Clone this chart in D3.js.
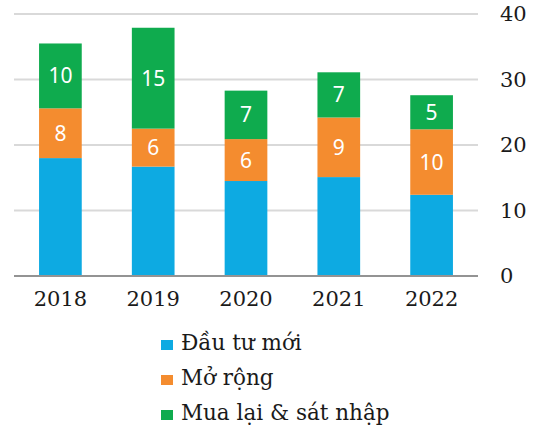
<!DOCTYPE html>
<html>
<head>
<meta charset="utf-8">
<script src="https://cdn.jsdelivr.net/npm/d3@7"></script>
<style>
  body { margin: 0; background: #fff; }
  svg { display: block; }
</style>
</head>
<body>
<script>
var width = 534;
var height = 429;
var margin = { top: 14, right: 56, bottom: 153, left: 14 };

// data
var years = ["2018", "2019", "2020", "2021", "2022"];
var dauTuMoi = [18.0, 16.7, 14.5, 15.1, 12.4];
var moRong = [7.6, 5.8, 6.4, 9.1, 10.0];
var muaLai = [9.9, 15.4, 7.4, 6.9, 5.2];
var seriesNames = ["Đầu tư mới", "Mở rộng", "Mua lại & sát nhập"];
var colors = ["#0daae2", "#f48c2f", "#0fab4e"];
var yTicks = [0, 10, 20, 30, 40];

var rows = years.map(function (y, i) {
  return { year: y, a: dauTuMoi[i], b: moRong[i], c: muaLai[i] };
});
var keys = ["a", "b", "c"];

var svg = d3
  .select("body")
  .append("svg")
  .attr("width", width)
  .attr("height", height);

var xScale = d3
  .scaleBand()
  .domain(years)
  .range([margin.left, width - margin.right])
  .paddingInner(0.54)
  .paddingOuter(0.27);

var yScale = d3
  .scaleLinear()
  .domain([0, 40])
  .range([height - margin.bottom, margin.top]);

// gridlines
svg
  .append("g")
  .selectAll("line")
  .data(yTicks.filter(function (d) { return d > 0; }))
  .join("line")
  .attr("x1", margin.left)
  .attr("x2", width - margin.right)
  .attr("y1", function (d) { return yScale(d); })
  .attr("y2", function (d) { return yScale(d); })
  .attr("stroke", "#d9d9d9")
  .attr("stroke-width", 2);

var stacked = d3.stack().keys(keys)(rows);

// bars
var layers = svg
  .append("g")
  .selectAll("g")
  .data(stacked)
  .join("g")
  .attr("fill", function (d, i) { return colors[i]; });

layers
  .selectAll("rect")
  .data(function (d) { return d; })
  .join("rect")
  .attr("x", function (d) { return xScale(d.data.year); })
  .attr("width", xScale.bandwidth())
  .attr("y", function (d) { return yScale(d[1]); })
  .attr("height", function (d) { return yScale(d[0]) - yScale(d[1]); });

// value labels (only orange and green)
stacked.slice(1).forEach(function (layer) {
  svg
    .append("g")
    .selectAll("text")
    .data(layer)
    .join("text")
    .attr("x", function (d) { return xScale(d.data.year) + xScale.bandwidth() / 2; })
    .attr("y", function (d) { return (yScale(d[0]) + yScale(d[1])) / 2; })
    .attr("dy", "0.36em")
    .attr("text-anchor", "middle")
    .attr("fill", "#fff")
    .attr("font-family", "'Noto Sans', sans-serif")
    .attr("font-size", "21px")
    .text(function (d) { return Math.round(d[1] - d[0]); });
});

// baseline
svg
  .append("line")
  .attr("x1", margin.left)
  .attr("x2", width - margin.right)
  .attr("y1", yScale(0))
  .attr("y2", yScale(0))
  .attr("stroke", "#939393")
  .attr("stroke-width", 2);

// right axis
var axisy = d3.axisRight(yScale).tickValues(yTicks).tickSize(0).tickPadding(22);
var gy = svg
  .append("g")
  .attr("transform", "translate(" + (width - margin.right) + ",0)")
  .call(axisy);
gy.select(".domain").remove();
gy.selectAll("text")
  .attr("font-family", "'DejaVu Serif', serif")
  .attr("font-size", "21px")
  .attr("fill", "#1a1a1a");

// bottom axis
var axisx = d3.axisBottom(xScale).tickSize(0).tickPadding(15);
var gx = svg
  .append("g")
  .attr("transform", "translate(0," + yScale(0) + ")")
  .call(axisx);
gx.select(".domain").remove();
gx.selectAll("text")
  .attr("font-family", "'DejaVu Serif', serif")
  .attr("font-size", "21px")
  .attr("fill", "#1a1a1a");

// legend
var legend = svg
  .append("g")
  .attr("transform", "translate(161,350)");

var items = legend
  .selectAll("g")
  .data(seriesNames)
  .join("g")
  .attr("transform", function (d, i) { return "translate(0," + i * 35 + ")"; });

items
  .append("rect")
  .attr("x", 0)
  .attr("y", -10)
  .attr("width", 12)
  .attr("height", 10)
  .attr("fill", function (d, i) { return colors[i]; });

items
  .append("text")
  .attr("x", 20)
  .attr("y", 0)
  .attr("font-family", "'DejaVu Serif', serif")
  .attr("font-size", "21.5px")
  .attr("fill", "#1a1a1a")
  .text(function (d) { return d; });
</script>
</body>
</html>
